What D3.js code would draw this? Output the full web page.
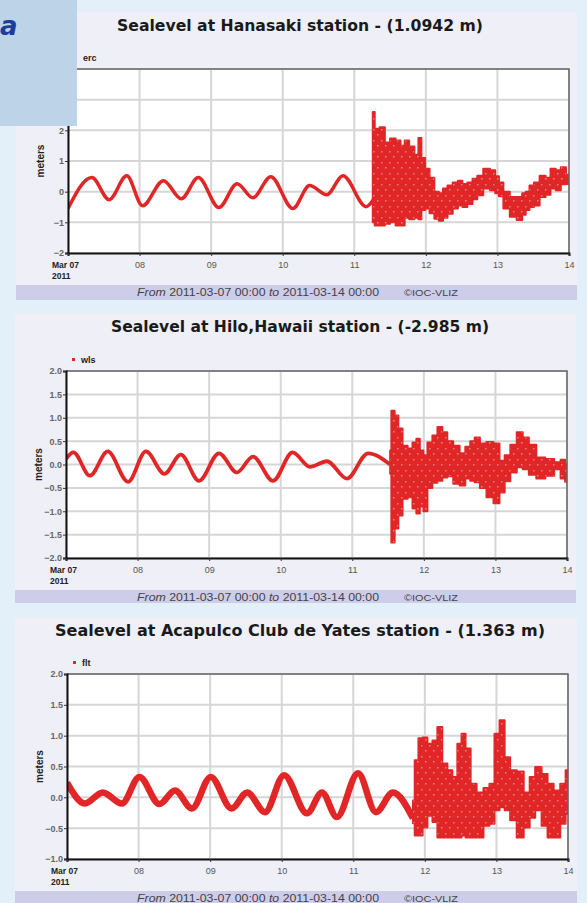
<!DOCTYPE html>
<html>
<head>
<meta charset="utf-8">
<script src="https://cdn.jsdelivr.net/npm/d3@7"></script>
<style>
  body { margin: 0; background: #e3f0fa; }
  svg { display: block; }
</style>
</head>
<body>
<svg id="chart" width="587" height="903"></svg>
<script>
// all times are hours since 2011-03-07 00:00
const dayTicks = [0, 24, 48, 72, 96, 120, 144, 168];
const dayLabels = ['Mar 07', '08', '09', '10', '11', '12', '13', '14'];

// Hanasaki (erc): smooth tide before the tsunami, then [hour, low, high] envelope
const hanaTideHours = [0, 8, 13.8, 19.7, 25, 32, 38, 43.7, 50.6, 56.7, 62, 68, 75.4, 81, 86.8, 92.2, 100, 102.5];
const hanaTideValues = [-0.55, 0.46, -0.26, 0.52, -0.46, 0.36, -0.23, 0.46, -0.52, 0.26, -0.2, 0.49, -0.55, 0.2, -0.1, 0.52, -0.49, -0.25];
const hanaNoise = [
  [102.2, -1.0, 2.6], [103.5, -1.1, 2.05], [105.5, -1.1, 2.1], [107, -1.05, 1.6], [109, -1.0, 1.73],
  [110.7, -1.1, 1.67], [112.3, -1.1, 1.5], [113.5, -0.85, 1.67], [115.3, -0.9, 1.47], [117, -0.85, 1.2],
  [118, -0.9, 1.75], [119, -0.6, 1.1], [120.5, -0.55, 0.75], [122, -0.7, 0.45], [123.7, -0.88, 0.0],
  [125, -0.95, -0.05], [126.5, -0.85, 0.1], [128, -0.72, 0.2], [130, -0.55, 0.3], [131.5, -0.45, 0.36],
  [133, -0.5, 0.25], [134.8, -0.4, 0.3], [136.5, -0.25, 0.42], [138, -0.12, 0.52], [140.5, 0.1, 0.75],
  [142.5, 0.05, 0.7], [144, -0.05, 0.5], [145, -0.15, 0.3], [147, -0.55, 0.0], [149.3, -0.82, -0.17],
  [151.6, -0.92, -0.17], [153, -0.75, -0.05], [154, -0.6, 0.0], [155.5, -0.5, 0.2], [157, -0.45, 0.3],
  [159.3, -0.17, 0.52], [161, -0.1, 0.45], [162.6, 0.1, 0.75], [164.5, 0.05, 0.7], [166, 0.24, 0.8],
  [168, 0.25, 0.55]
];

// Hilo, Hawaii (wls)
const hiloTideHours = [0, 2.5, 8, 14, 20.8, 26.8, 33, 38.5, 44.6, 51.3, 57.3, 62.7, 69.4, 76, 81.8, 87.5, 94.2, 101.3, 108.7];
const hiloTideValues = [0.12, 0.26, -0.24, 0.28, -0.37, 0.28, -0.2, 0.21, -0.35, 0.24, -0.17, 0.17, -0.35, 0.26, -0.05, 0.07, -0.3, 0.24, 0.0];
const hiloNoise = [
  [108.7, -0.2, 0.3], [109.5, -1.67, 1.15], [110.9, -1.37, 1.05], [112, -1.09, 0.77], [113.7, -0.73, 0.4],
  [115.4, -0.7, 0.34], [117, -0.94, 0.47], [118, -1.05, 0.55], [119.3, -0.9, 0.3], [120.4, -1.0, 0.2],
  [122, -0.5, 0.47], [123.7, -0.39, 0.62], [125.4, -0.35, 0.8], [127, -0.28, 0.69], [128.7, -0.25, 0.5],
  [131, -0.41, 0.4], [133, -0.45, 0.24], [134.8, -0.3, 0.38], [136.3, -0.35, 0.5], [137.8, -0.38, 0.58],
  [139.8, -0.5, 0.45], [142.2, -0.7, 0.48], [144.5, -0.83, 0.45], [146.2, -0.6, 0.08], [148, -0.36, 0.2],
  [150, -0.17, 0.42], [152.3, -0.06, 0.69], [154, -0.1, 0.58], [156.4, -0.22, 0.42], [159, -0.3, 0.15],
  [162.4, -0.24, 0.12], [165, -0.1, 0.05], [166.7, -0.3, 0.1], [168, -0.37, 0.0]
];

// Acapulco Club de Yates (flt)
const acaTideHours = [0, 6, 12, 18.4, 24.3, 31, 36.2, 41.9, 48.2, 55.2, 60.4, 66.4, 72.8, 80.5, 85.5, 90.5, 97.6, 103.6, 109.3, 116];
const acaTideValues = [0.24, -0.1, 0.08, -0.1, 0.33, -0.11, 0.11, -0.18, 0.33, -0.18, 0.08, -0.24, 0.36, -0.26, 0.08, -0.32, 0.39, -0.24, 0.08, -0.34];
const acaNoise = [
  [116, -0.42, -0.05], [117.2, -0.62, 0.6], [118.5, -0.62, 0.96], [120, -0.49, 0.97], [121.7, -0.3, 0.87],
  [123.4, -0.4, 0.92], [125, -0.65, 1.14], [126.7, -0.65, 0.55], [128.4, -0.65, 0.44], [130, -0.65, 0.33],
  [131.8, -0.65, 0.87], [132.8, -0.62, 1.03], [134.5, -0.65, 0.79], [136.2, -0.65, 0.22], [138.5, -0.65, 0.08],
  [140.8, -0.46, 0.15], [142.5, -0.43, 0.22], [144.2, -0.21, 1.03], [145.9, -0.16, 1.25], [147.6, -0.21, 0.65],
  [149.6, -0.37, 0.44], [152, -0.65, 0.42], [154.3, -0.49, 0.08], [156, -0.33, 0.33], [158, -0.21, 0.49],
  [160.3, -0.46, 0.38], [162, -0.65, 0.22], [164.4, -0.65, 0.11], [166.4, -0.43, 0.22], [168, -0.27, 0.44]
];

const hanaTicks = [-2, -1, 0, 1, 2, 3, 4];
const hiloTicks = [-2, -1.5, -1, -0.5, 0, 0.5, 1, 1.5, 2];
const acaTicks = [-1, -0.5, 0, 0.5, 1, 1.5, 2];

const red = '#e02626';

// layout of the three stacked panels (pixel boxes)
const panels = [
  { title: 'Sealevel at Hanasaki station - (1.0942 m)', titleW: 366, code: 'erc',
    box: [16, 12, 577, 300], plot: [68, 69, 569, 253], yDomain: [-2, 4], ticks: hanaTicks, fmt: d3.format('d'),
    tideH: hanaTideHours, tideV: hanaTideValues, noise: hanaNoise, lineW: 3.5 },
  { title: 'Sealevel at Hilo,Hawaii station - (-2.985 m)', titleW: 378, code: 'wls',
    box: [15, 313, 576, 603], plot: [66, 371, 567, 558], yDomain: [-2, 2], ticks: hiloTicks, fmt: d3.format('.1f'),
    tideH: hiloTideHours, tideV: hiloTideValues, noise: hiloNoise, lineW: 3.8 },
  { title: 'Sealevel at Acapulco Club de Yates station - (1.363 m)', titleW: 490, code: 'flt',
    box: [15, 617, 577, 903], plot: [67, 674, 568, 859], yDomain: [-1, 2], ticks: acaTicks, fmt: d3.format('.1f'),
    tideH: acaTideHours, tideV: acaTideValues, noise: acaNoise, lineW: 6.5 }
];

const svg = d3.select('#chart');

// pale speckle texture laid over the scattered tsunami readings
const pat = svg.append('defs').append('pattern').attr('id', 'speckle')
  .attr('patternUnits', 'userSpaceOnUse').attr('width', 8).attr('height', 11);
pat.append('rect').attr('x', 1).attr('y', 2).attr('width', 1.5).attr('height', 1.5).attr('fill', '#f6d0c8');
pat.append('rect').attr('x', 5).attr('y', 8).attr('width', 1.5).attr('height', 1.5).attr('fill', '#f3c4bd');

panels.forEach((p, i) => {
  const [bx0, by0, bx1, by1] = p.box;
  const [px0, py0, px1, py1] = p.plot;
  const g = svg.append('g');

  // panel background + footer bar
  g.append('rect').attr('x', bx0).attr('y', by0).attr('width', bx1 - bx0).attr('height', by1 - by0)
    .attr('fill', '#efeff7');
  const footY = py1 + 32;
  g.append('rect').attr('x', bx0).attr('y', footY).attr('width', bx1 - bx0).attr('height', by1 - footY)
    .attr('fill', '#cdcdea');

  g.append('text')
    .attr('x', 300).attr('y', by0 + 19)
    .attr('text-anchor', 'middle')
    .attr('textLength', p.titleW).attr('lengthAdjust', 'spacingAndGlyphs')
    .style('font', 'bold 15px "DejaVu Sans", sans-serif').attr('fill', '#1a1a1a')
    .text(p.title);

  // legend
  g.append('rect').attr('x', px0 + 6).attr('y', py0 - 13).attr('width', 3).attr('height', 3).attr('fill', red);
  g.append('text').attr('x', px0 + 15).attr('y', py0 - 8)
    .style('font', 'bold 9px "Liberation Sans", Arial, sans-serif').attr('fill', '#222').text(p.code);

  const x = d3.scaleLinear().domain([0, 168]).range([px0, px1]);
  const y = d3.scaleLinear().domain(p.yDomain).range([py1, py0]);

  g.append('rect').attr('x', px0).attr('y', py0).attr('width', px1 - px0).attr('height', py1 - py0)
    .attr('fill', '#fff');

  // grid
  g.append('g').selectAll('line.h').data(p.ticks).join('line')
    .attr('x1', px0).attr('x2', px1).attr('y1', d => y(d)).attr('y2', d => y(d))
    .attr('stroke', '#d6d6d6').attr('stroke-width', 2);
  g.append('g').selectAll('line.v').data(dayTicks).join('line')
    .attr('x1', d => x(d)).attr('x2', d => x(d)).attr('y1', py0).attr('y2', py1)
    .attr('stroke', '#d6d6d6').attr('stroke-width', 2);

  const clipId = 'clip' + i;
  svg.append('clipPath').attr('id', clipId).append('rect')
    .attr('x', px0).attr('y', py0).attr('width', px1 - px0).attr('height', py1 - py0);
  const marks = g.append('g').attr('clip-path', `url(#${clipId})`);

  const tide = p.tideH.map((h, k) => [h, p.tideV[k]]);
  marks.append('path').datum(tide)
    .attr('d', d3.line().x(d => x(d[0])).y(d => y(d[1])).curve(d3.curveMonotoneX))
    .attr('fill', 'none').attr('stroke', red).attr('stroke-width', p.lineW)
    .attr('stroke-linejoin', 'round');

  const band = d3.area().x(d => x(d[0])).y0(d => y(d[1])).y1(d => y(d[2])).curve(d3.curveStep);
  marks.append('path').datum(p.noise).attr('d', band)
    .attr('fill', red).attr('stroke', red).attr('stroke-width', 2).attr('stroke-linejoin', 'round');
  marks.append('path').datum(p.noise).attr('d', band)
    .attr('fill', 'url(#speckle)').attr('opacity', 0.55);

  // frame: grey top/right, black axes left/bottom
  g.append('path').attr('d', `M${px0},${py0}H${px1}V${py1}`)
    .attr('fill', 'none').attr('stroke', '#666').attr('stroke-width', 1.5);

  const yAxis = g.append('g').attr('transform', `translate(${px0},0)`)
    .call(d3.axisLeft(y).tickValues(p.ticks.filter(t => t <= 2)).tickFormat(p.fmt).tickSize(3).tickPadding(1));
  const xAxis = g.append('g').attr('transform', `translate(0,${py1})`)
    .call(d3.axisBottom(x).tickValues(dayTicks).tickFormat((d, k) => k === 0 ? '' : dayLabels[k]).tickSize(3).tickPadding(6));
  [yAxis, xAxis].forEach(a => {
    a.select('.domain').attr('stroke', '#111').attr('stroke-width', 2);
    a.selectAll('.tick line').attr('stroke', '#333');
    a.selectAll('.tick text').style('font', '9px "Liberation Sans", Arial, sans-serif').attr('fill', '#555');
  });
  yAxis.selectAll('.tick text').style('font-weight', 'bold').attr('fill', '#666');

  g.append('text').attr('x', px0 - 16).attr('y', py1 + 15)
    .style('font', 'bold 8.5px "Liberation Sans", Arial, sans-serif').attr('fill', '#222').text(dayLabels[0]);
  g.append('text').attr('x', px0 - 16).attr('y', py1 + 26)
    .style('font', 'bold 8.5px "Liberation Sans", Arial, sans-serif').attr('fill', '#222').text('2011');

  g.append('text')
    .attr('transform', `translate(${px0 - 24},${(py0 + py1) / 2}) rotate(-90)`)
    .attr('text-anchor', 'middle')
    .style('font', 'bold 10px "Liberation Sans", Arial, sans-serif').attr('fill', '#222').text('meters');

  // footer text
  const ft = g.append('text').attr('x', 137).attr('y', footY + 11)
    .attr('textLength', 242).attr('lengthAdjust', 'spacingAndGlyphs')
    .style('font', '11px "Liberation Sans", Arial, sans-serif').attr('fill', '#444');
  ft.append('tspan').style('font-style', 'italic').text('From ');
  ft.append('tspan').text('2011-03-07 00:00 ');
  ft.append('tspan').style('font-style', 'italic').text('to ');
  ft.append('tspan').text('2011-03-14 00:00');
  g.append('text').attr('x', 404).attr('y', footY + 11)
    .attr('textLength', 54).attr('lengthAdjust', 'spacingAndGlyphs')
    .style('font', '9px "Liberation Sans", Arial, sans-serif').attr('fill', '#444').text('\u00a9IOC-VLIZ');
});

// pale blue block laid over the top-left corner
svg.append('rect').attr('x', 0).attr('y', 0).attr('width', 77).attr('height', 126).attr('fill', '#bcd3e8');
svg.append('text').attr('x', 0).attr('y', 35)
  .style('font', 'italic bold 26px "DejaVu Sans", sans-serif').attr('fill', '#1d3c9c').text('a');
</script>
</body>
</html>
